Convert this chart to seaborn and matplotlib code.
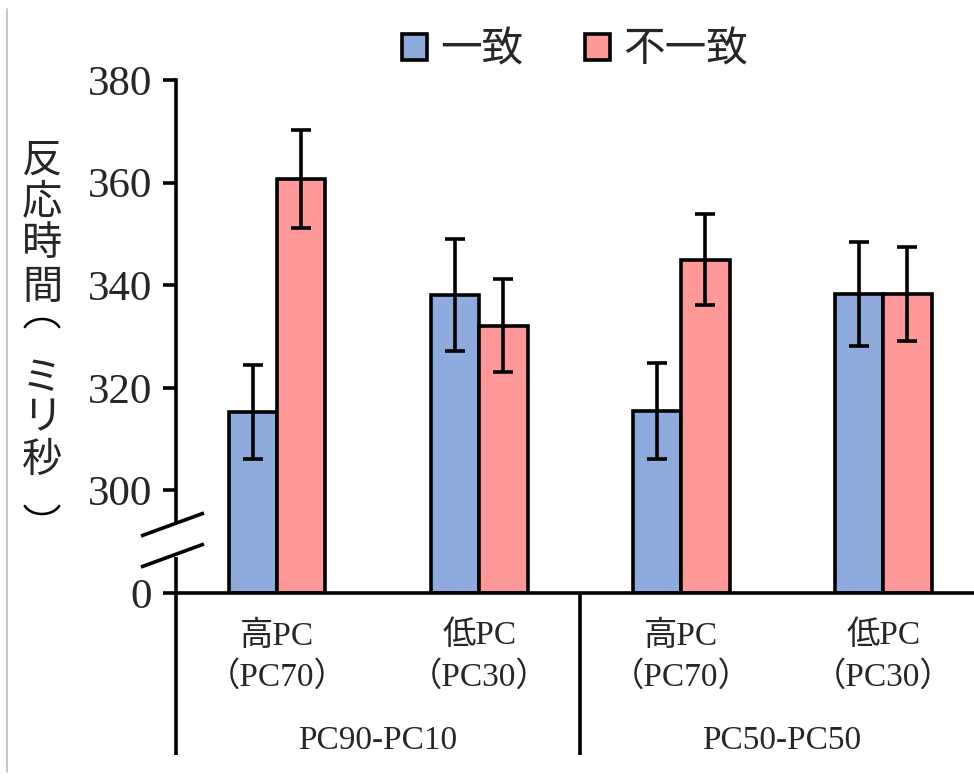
import matplotlib
matplotlib.use("Agg")
import matplotlib.pyplot as plt
import matplotlib.transforms as mtransforms
from matplotlib.patches import Patch
from matplotlib.lines import Line2D
import seaborn as sns
import pandas as pd
import numpy as np

# ---- data ----
conditions = ["高PC\n（PC70）", "低PC\n（PC30）", "高PC\n（PC70） ", "低PC\n（PC30） "]
groups = ["PC90-PC10", "PC50-PC50"]
congruent_mean = [315.3, 338.1, 315.5, 338.3]
incongruent_mean = [360.7, 332.1, 345.0, 338.3]
congruent_err = [9.1, 11.0, 9.4, 10.2]
incongruent_err = [9.6, 9.1, 8.8, 9.2]
hue_labels = ["一致", "不一致"]
ytick_values = [280, 300, 320, 340, 360, 380]
ytick_labels = ["0", "300", "320", "340", "360", "380"]
break_base = 280  # value drawn at the axis origin (broken axis)

colors = ["#8FAADC", "#FF9999"]
LW = 2.6

sns.set_theme(style="white")
plt.rcParams["font.family"] = ["Liberation Serif", "Noto Sans CJK JP"]

rows = []
for i, c in enumerate(conditions):
    rows.append({"cond": c, "type": hue_labels[0], "h": congruent_mean[i] - break_base,
                 "mean": congruent_mean[i], "err": congruent_err[i], "idx": i, "k": 0})
    rows.append({"cond": c, "type": hue_labels[1], "h": incongruent_mean[i] - break_base,
                 "mean": incongruent_mean[i], "err": incongruent_err[i], "idx": i, "k": 1})
df = pd.DataFrame(rows)

fig = plt.figure(figsize=(9.74, 7.79), dpi=100)
ax = fig.add_axes([176 / 974, (779 - 593) / 779, 798 / 974, 513 / 779])

sns.barplot(data=df, x="cond", y="h", hue="type", order=conditions, hue_order=hue_labels,
            palette=colors, width=0.48, gap=0, errorbar=None, edgecolor="black",
            linewidth=LW, saturation=1, ax=ax, legend=False)

# error bars at the bar centres produced by seaborn
bars = sorted([p for p in ax.patches if p.get_width() > 0], key=lambda p: p.get_x())
ordered = df.sort_values(["idx", "k"]).reset_index(drop=True)
for p, (_, r) in zip(bars, ordered.iterrows()):
    xc = p.get_x() + p.get_width() / 2
    ax.errorbar(xc, r["h"], yerr=r["err"], fmt="none", ecolor="black",
                elinewidth=LW, capsize=7, capthick=LW, zorder=5)

ax.set_xlim(-0.5, 3.45)
ax.set_ylim(0, 100)
ax.set_yticks([v - break_base for v in ytick_values])
ax.set_yticklabels(ytick_labels, fontsize=31, family="Liberation Serif")
ax.tick_params(axis="y", direction="out", length=9.4, width=LW, color="black", pad=8, left=True)
ax.tick_params(axis="x", length=0, pad=20)
ax.set_xticks(range(len(conditions)))
ax.set_xticklabels([c.strip() for c in conditions], fontsize=24, linespacing=1.38,
                   family=["Liberation Serif", "Noto Sans CJK JP"])
ax.set_xlabel("")
ax.set_ylabel("")

for s in ["top", "right", "left"]:
    ax.spines[s].set_visible(False)
ax.spines["bottom"].set_linewidth(LW)
ax.spines["bottom"].set_color("black")

# broken left axis drawn in axes fraction
ax.plot([0, 0], [0, (593 - 557) / 513], color="black", lw=LW, transform=ax.transAxes,
        clip_on=False, solid_capstyle="butt")
ax.plot([0, 0], [(593 - 522) / 513, 1], color="black", lw=LW, transform=ax.transAxes,
        clip_on=False, solid_capstyle="projecting")
def px2ax(xp, yp):
    return (xp - 176) / 798, (593 - yp) / 513
for (x0, y0, x1, y1) in [(141, 536, 204, 513), (141, 567, 204, 544)]:
    a0 = px2ax(x0, y0)
    a1 = px2ax(x1, y1)
    ax.plot([a0[0], a1[0]], [a0[1], a1[1]], color="black", lw=LW, transform=ax.transAxes,
            clip_on=False, solid_capstyle="butt")

# category separators below axis
trans = mtransforms.blended_transform_factory(ax.transData, ax.transAxes)
ybot = (593 - 755) / 513
for xs in [-0.5, 1.5]:
    ax.plot([xs, xs], [0, ybot], color="black", lw=LW, transform=trans, clip_on=False,
            solid_capstyle="butt")
for gx, g in zip([0.5, 2.5], groups):
    ax.text(gx, (593 - 741) / 513, g, transform=trans, ha="center", va="center",
            fontsize=24, family="Liberation Serif")

# legend
handles = [Patch(facecolor=colors[i], edgecolor="black", linewidth=LW) for i in range(2)]
fig.legend(handles, hue_labels, loc="center", bbox_to_anchor=(575 / 974, 1 - 50 / 779),
           ncol=2, frameon=False, handlelength=0.6, handleheight=0.6, handletextpad=0.3,
           columnspacing=1.5, prop={"family": "Noto Sans CJK JP", "size": 30})

# vertical y-axis label (stacked characters)
ylabel_chars = ["反", "応", "時", "間", "ミ", "リ", "秒"]
ylabel_pos = [160, 202, 244, 287, 378, 418, 460]
for ch, yp in zip(ylabel_chars, ylabel_pos):
    fig.text(42 / 974, 1 - yp / 779, ch, ha="center", va="center", fontsize=29,
             family=["Noto Sans CJK JP", "DejaVu Sans"])
# vertical-writing parentheses （ ） drawn as arcs (pixel geometry)
tt = np.linspace(np.radians(25), np.radians(155), 30)
for cy, sign in [(333, -1), (500, 1)]:
    xs_px = 42 + 19 * np.cos(tt)
    ys_px = cy + sign * 14 * np.sin(tt)
    fig.add_artist(Line2D(xs_px / 974, 1 - ys_px / 779, transform=fig.transFigure,
                          color="black", lw=1.8))

# faint frame line at left edge
fig.add_artist(Line2D([7 / 974, 7 / 974], [1 - 9 / 779, 1 - 772 / 779], color="#BFBFBF", lw=1.2))

fig.savefig("out.png", dpi=100)
